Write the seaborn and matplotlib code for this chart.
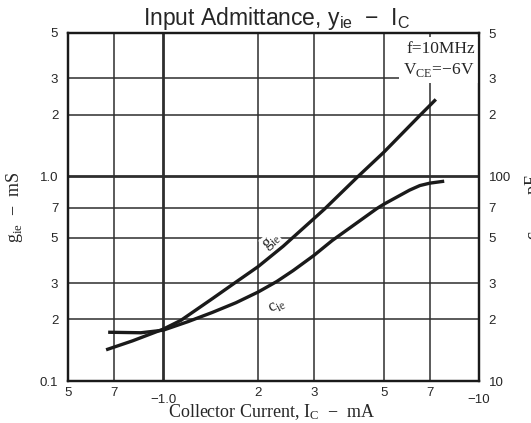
import matplotlib
matplotlib.use("Agg")
import matplotlib.pyplot as plt
import matplotlib.transforms as mtrans
import seaborn as sns
import pandas as pd

# ---- data ----
gie_ic = [0.66, 0.8, 1.0, 1.14, 1.43, 1.69, 2.0, 2.4, 2.55, 3.0, 3.24, 4.15, 5.0, 6.5, 7.0, 7.3]
gie_ms = [0.142, 0.157, 0.179, 0.198, 0.252, 0.302, 0.362, 0.455, 0.495, 0.62, 0.69,
          1.0, 1.31, 1.98, 2.22, 2.37]

cie_ic = [0.67, 0.85, 1.0, 1.2, 1.43, 1.7, 2.0, 2.29, 2.58, 3.0, 3.43, 4.75, 5.0, 6.03, 6.5, 7.0, 7.76]
cie_pf = [17.3, 17.2, 17.7, 19.5, 21.6, 24.1, 27.2, 30.6, 34.6, 41.0, 48.5, 69.5, 73.0,
          85.5, 90.0, 92.5, 94.5]

x_ticks = [0.5, 0.7, 1.0, 2, 3, 5, 7, 10]
x_labels = ["5", "7", "\u22121.0", "2", "3", "5", "7", "\u221210"]
yl_ticks = [0.1, 0.2, 0.3, 0.5, 0.7, 1.0, 2, 3, 5]
yl_labels = ["0.1", "2", "3", "5", "7", "1.0", "2", "3", "5"]
yr_ticks = [10, 20, 30, 50, 70, 100, 200, 300, 500]
yr_labels = ["10", "2", "3", "5", "7", "100", "2", "3", "5"]

sns.set_style("white")
plt.rcParams["font.family"] = ["Liberation Sans", "DejaVu Sans"]
plt.rcParams["mathtext.fontset"] = "custom"
plt.rcParams["mathtext.rm"] = "Liberation Serif"

fig = plt.figure(figsize=(5.31, 4.23), dpi=100)
L, R, T, B = 68, 479, 33, 381
ax = fig.add_axes([L / 531, 1 - B / 423, (R - L) / 531, (B - T) / 423])
ax2 = ax.twinx()

for a, lo, hi in ((ax, 0.1, 5), (ax2, 10, 500)):
    a.set_xscale("log")
    a.set_yscale("log")
    a.set_xlim(0.5, 10)
    a.set_ylim(lo, hi)

# grid
gcol = "#2e2e2e"
for xv in x_ticks[1:-1]:
    ax.axvline(xv, color=gcol, lw=2.0 if xv == 1.0 else 1.1, zorder=1)
for yv in yl_ticks[1:-1]:
    ax.axhline(yv, color=gcol, lw=2.0 if yv == 1.0 else 1.1, zorder=1)

df_g = pd.DataFrame({"ic": gie_ic, "v": gie_ms})
df_c = pd.DataFrame({"ic": cie_ic, "v": cie_pf})
line_kw = dict(color="#1a1a1a", lw=2.4, zorder=3)
sns.lineplot(data=df_g, x="ic", y="v", ax=ax, **line_kw)
sns.lineplot(data=df_c, x="ic", y="v", ax=ax2, **line_kw)
for ln in ax.lines[-1:] + ax2.lines[-1:]:
    ln.set_solid_joinstyle("round")
    ln.set_solid_capstyle("butt")

ax.set_xticks(x_ticks)
ax.set_xticklabels(x_labels)
ax.set_yticks(yl_ticks)
ax.set_yticklabels(yl_labels)
ax2.set_yticks(yr_ticks)
ax2.set_yticklabels(yr_labels)
for a in (ax, ax2):
    a.minorticks_off()
    a.tick_params(axis="both", length=0, labelsize=9.5, pad=4)
ax.tick_params(axis="y", pad=7)
ax2.tick_params(axis="y", pad=7)

shift = mtrans.ScaledTranslation(0, -5 / 72, fig.dpi_scale_trans)
for lab in ax.get_xticklabels():
    if lab.get_text() in ("\u22121.0", "\u221210"):
        lab.set_transform(lab.get_transform() + shift)

for a in (ax, ax2):
    for s in a.spines.values():
        s.set_color("#1a1a1a")
        s.set_linewidth(1.6)
        s.set_visible(True)

serif = ["Liberation Serif", "DejaVu Serif"]
ax.set_xlabel("Collector Current, $\\mathregular{I_C}$  \u2212  mA", family=serif, fontsize=13)
ax.xaxis.set_label_coords(0.495, -0.06)
ax.set_ylabel("g$_\\mathregular{ie}$  \u2212  mS", family=serif, fontsize=13)
ax.yaxis.set_label_coords(-0.105, 0.5)
ax2.set_ylabel("c$_\\mathregular{ie}$  \u2212  pF", family=serif, fontsize=13)
ax2.yaxis.set_label_coords(1.108, 0.5)

fig.text(277 / 531, 1 - 19 / 423, "Input Admittance, $\\mathregular{y_{ie}}$  \u2212  $\\mathregular{I_C}$",
         ha="center", va="center", fontsize=16.5)

ax.text(0.99, 0.978, "f=10MHz\nV$_\\mathregular{CE}$=\u22126V", transform=ax.transAxes,
        ha="right", va="top", family=serif, fontsize=12.5, linespacing=1.3,
        bbox=dict(facecolor="white", edgecolor="none", pad=3), zorder=4)

ax.text(2.2, 0.48, "g$_\\mathregular{ie}$", family=serif, fontsize=12, rotation=40,
        ha="center", va="center", zorder=4,
        bbox=dict(facecolor="white", edgecolor="none", pad=0.3))
ax.text(2.3, 0.232, "c$_\\mathregular{ie}$", family=serif, fontsize=12, rotation=28,
        ha="center", va="center", zorder=4,
        bbox=dict(facecolor="white", edgecolor="none", pad=0.3))

fig.savefig("out.png", dpi=100)
